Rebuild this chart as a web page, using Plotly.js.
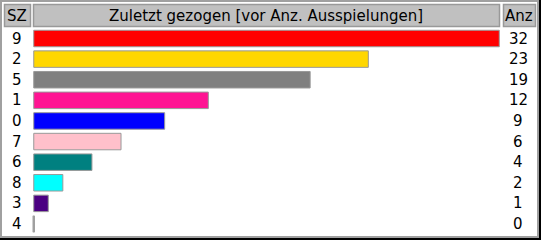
<!DOCTYPE html>
<html><head><meta charset="utf-8">
<script src="https://cdn.plot.ly/plotly-3.0.1.min.js"></script>
<style>html,body{margin:0;padding:0;background:#fff}#c{width:541px;height:240px}</style>
</head><body><div id="c"></div>
<script>
const categories = ["9","2","5","1","0","7","6","8","3","4"];
const counts = [32,23,19,12,9,6,4,2,1,0];
const barColors = ["#ff0000","#ffd700","#808080","#ff1493","#0000ff","#ffc0cb","#008080","#00ffff","#4b0082","#a0a0a0"];
const headerLabels = ["SZ","Zuletzt gezogen [vor Anz. Ausspielungen]","Anz"];

const W=541,H=240;
const px=x=>x/W, py=y=>1-y/H;
const font={family:"DejaVu Sans",size:15,color:"#000"};
const hfont={family:"DejaVu Sans",size:15,color:"#000"};

function prect(x0,y0,x1,y1,fill,line,lw){
  return {type:"rect",xref:"paper",yref:"paper",x0:px(x0),x1:px(x1),y0:py(y1),y1:py(y0),
    fillcolor:fill,line:{color:line||fill,width:lw||0},layer:"above"};
}
const shapes=[
  prect(0,0,541,2,"#a0a0a0"),
  prect(0,0,2,240,"#a0a0a0"),
  prect(537,0,539,238,"#a0a0a0"),
  prect(539,0,541,240,"#000000"),
  prect(0,236,539,238,"#a0a0a0"),
  prect(0,238,541,240,"#000000"),
  prect(4.5,4.5,30.5,26.5,"#c0c0c0","#999999",1.5),
  prect(33.5,4.5,499.5,26.5,"#c0c0c0","#999999",1.5),
  prect(503.5,4.5,535.5,26.5,"#c0c0c0","#999999",1.5)
];
categories.forEach((c,i)=>{
  if(counts[i]===0){
    shapes.push({type:"line",xref:"x",yref:"y",x0:counts[i],x1:counts[i],y0:i-0.4,y1:i+0.4,
      line:{color:barColors[i],width:2.5}});
  }
});
const headerX=[17,266,519];
const annotations=[];
headerLabels.forEach((t,i)=>annotations.push({xref:"paper",yref:"paper",x:px(headerX[i]),y:py(16),
  text:t,showarrow:false,font:hfont,xanchor:"center",yanchor:"middle"}));
categories.forEach((c,i)=>{
  annotations.push({xref:"paper",yref:"y",x:px(17),y:i,text:c,showarrow:false,font:font,xanchor:"center",yanchor:"middle"});
  annotations.push({xref:"paper",yref:"y",x:px(518),y:i,text:String(counts[i]),showarrow:false,font:font,xanchor:"center",yanchor:"middle"});
});

Plotly.newPlot("c",[{
  type:"bar",orientation:"h",y:categories,x:counts,width:0.8,
  marker:{color:barColors,line:{color:"#999999",width:1}},hoverinfo:"none"
}],{
  width:W,height:H,margin:{l:0,r:0,t:0,b:0},paper_bgcolor:"#fff",plot_bgcolor:"#fff",
  showlegend:false,
  xaxis:{domain:[px(32),px(500)],range:[-0.12,32.05],visible:false,fixedrange:true},
  yaxis:{type:"category",categoryorder:"array",categoryarray:categories,range:[9.776,-1.868],visible:false,fixedrange:true},
  shapes:shapes,annotations:annotations
},{staticPlot:true});
</script></body></html>
